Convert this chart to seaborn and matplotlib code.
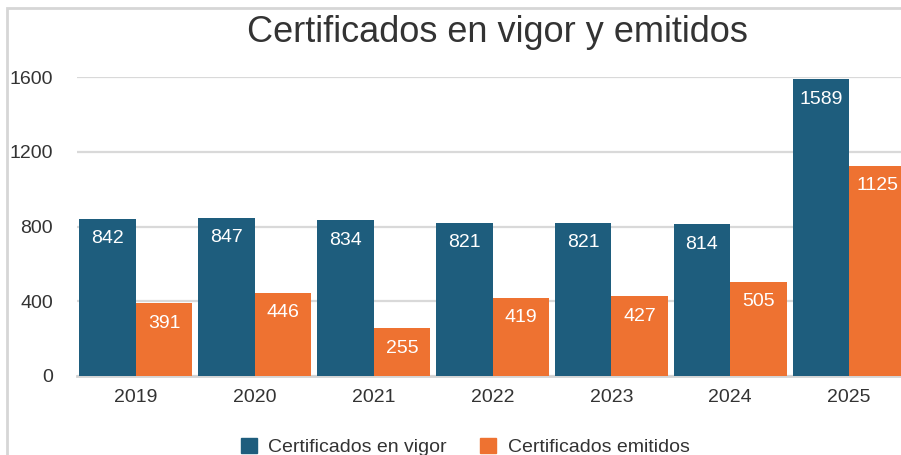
import numpy as np
import pandas as pd
import matplotlib.pyplot as plt
import seaborn as sns
from matplotlib.patches import Rectangle

# datos
anios = ['2019', '2020', '2021', '2022', '2023', '2024', '2025']
en_vigor = [842, 847, 834, 821, 821, 814, 1589]
emitidos = [391, 446, 255, 419, 427, 505, 1125]
series = ['Certificados en vigor', 'Certificados emitidos']
colores = ['#1E5D7D', '#EE7231']

df = pd.DataFrame({
    'anio': anios * 2,
    'valor': en_vigor + emitidos,
    'serie': [series[0]] * len(anios) + [series[1]] * len(anios),
})

sns.set_style('white')
plt.rcParams['font.family'] = ['Liberation Sans', 'DejaVu Sans']

fig = plt.figure(figsize=(9.01, 4.55), dpi=100)
# marco del gráfico (recortado a la derecha y abajo)
fig.patches.append(Rectangle((7 / 901, -0.1), 1.2, (455 - 8) / 455 + 0.1,
                             transform=fig.transFigure, fill=False,
                             edgecolor='#d6d6d6', lw=2, zorder=0))

ax = fig.add_axes([76.5 / 901, 79 / 455, 832 / 901, 299 / 455])
sns.barplot(data=df, x='anio', y='valor', hue='serie', palette=colores,
            width=0.95, gap=0, saturation=1, ax=ax, legend=False, zorder=3,
            linewidth=0)

ax.set_ylim(0, 1600)
ax.set_yticks([0, 400, 800, 1200, 1600])
ax.set_xlabel('')
ax.set_ylabel('')
ax.grid(axis='y', color='#d9d9d9', lw=1.6, zorder=0)
for s in ['top', 'right', 'left']:
    ax.spines[s].set_visible(False)
ax.spines['bottom'].set_color('#d4d4d4')
ax.spines['bottom'].set_linewidth(2)
ax.tick_params(axis='both', length=0, labelsize=14, colors='#333333')
ax.tick_params(axis='y', pad=17)
ax.tick_params(axis='x', pad=9)

for cont in ax.containers:
    for bar in cont:
        h = bar.get_height()
        ax.annotate(f'{int(h)}', (bar.get_x() + bar.get_width() / 2, h),
                    xytext=(0, -14.5), textcoords='offset points',
                    ha='center', va='center', color='white', fontsize=14, zorder=5)

fig.text(497 / 901, 1 - 33 / 455, 'Certificados en vigor y emitidos',
         ha='center', va='center', fontsize=26, color='#333333')

handles = [Rectangle((0, 0), 1, 1, color=c) for c in colores]
fig.legend(handles, series, loc='center', bbox_to_anchor=(465 / 901, 1 - 447 / 455),
           ncol=2, frameon=False, fontsize=14, handlelength=0.82, handleheight=0.82,
           handletextpad=0.6, columnspacing=1.7, labelcolor='#333333')

fig.savefig('out.png', dpi=100)
